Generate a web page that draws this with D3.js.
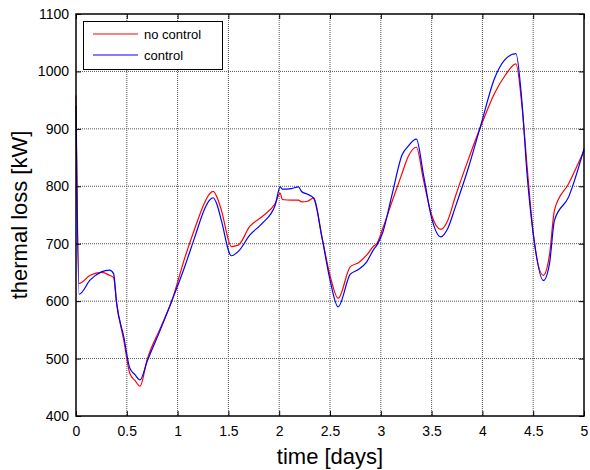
<!DOCTYPE html>
<html>
<head>
<meta charset="utf-8">
<script src="https://cdn.jsdelivr.net/npm/d3@7"></script>
<style>
  body { margin: 0; background: #fff; }
  text { font-family: "Liberation Sans", Arial, sans-serif; }
</style>
</head>
<body>
<svg id="chart" width="590" height="470"></svg>
<script>
const days = [0, 0.03, 0.14, 0.25, 0.33, 0.37, 0.40, 0.47, 0.53, 0.58, 0.63, 0.70, 0.83, 0.94,
  1.07, 1.17, 1.27, 1.31, 1.35, 1.39, 1.43, 1.53, 1.60, 1.71, 1.83, 1.96, 2.01, 2.03, 2.12, 2.19, 2.22,
  2.28, 2.34, 2.42, 2.50, 2.58, 2.70, 2.78, 2.86, 2.93, 2.96, 3.02, 3.11, 3.21, 3.27, 3.35,
  3.42, 3.50, 3.59, 3.66, 3.73, 3.86, 3.99, 4.12, 4.22, 4.33, 4.39, 4.44, 4.50, 4.60, 4.66,
  4.71, 4.85, 5.0];

const noControl = [958, 631, 645, 650, 645, 641, 596, 532, 474, 462, 452, 498, 553, 599,
  675, 727, 773, 786, 791, 780, 759, 695, 698, 730, 747, 770, 788, 777, 776, 776, 773,
  774, 780, 712, 645, 605, 660, 667, 680, 696, 700, 727, 773, 823, 852, 868,
  811, 750, 725, 741, 780, 846, 907, 962, 992, 1013, 939, 834, 718, 645, 680,
  759, 805, 862];

const control = [940, 612, 637, 651, 654, 648, 596, 538, 483, 472, 463, 495, 550, 599,
  660, 712, 762, 775, 780, 767, 741, 679, 687, 715, 735, 767, 799, 795, 796, 799, 791,
  786, 779, 712, 637, 590, 647, 655, 668, 690, 697, 720, 785, 855, 870, 882,
  820, 745, 712, 727, 762, 831, 910, 988, 1020, 1031, 945, 820, 718, 636, 665,
  741, 782, 865];

const xTicks = [0, 0.5, 1, 1.5, 2, 2.5, 3, 3.5, 4, 4.5, 5];
const yTicks = [400, 500, 600, 700, 800, 900, 1000, 1100];
const seriesNames = ["no control", "control"];
const seriesColors = ["#ff0000", "#0000ff"];

const svg = d3.select("#chart");
const plotL = 76, plotR = 584, plotT = 14, plotB = 416;

const x = d3.scaleLinear().domain([0, 5]).range([plotL, plotR]);
const y = d3.scaleLinear().domain([400, 1100]).range([plotB, plotT]);

// grid
const grid = svg.append("g");
grid.selectAll(".vgrid")
  .data(xTicks.slice(1, -1))
  .enter()
  .append("line")
  .attr("x1", (d) => x(d)).attr("x2", (d) => x(d))
  .attr("y1", plotT).attr("y2", plotB)
  .attr("stroke", "#555")
  .attr("stroke-width", 1)
  .attr("stroke-dasharray", "1,1");
grid.selectAll(".hgrid")
  .data(yTicks.slice(1, -1))
  .enter()
  .append("line")
  .attr("x1", plotL).attr("x2", plotR)
  .attr("y1", (d) => y(d)).attr("y2", (d) => y(d))
  .attr("stroke", "#555")
  .attr("stroke-width", 1)
  .attr("stroke-dasharray", "1,1");

// curves
const line = d3.line()
  .x((d, i) => x(days[i]))
  .y((d) => y(d))
  .curve(d3.curveMonotoneX);

[noControl, control].forEach((vals, k) => {
  svg.append("path")
    .datum(vals)
    .attr("d", line)
    .attr("fill", "none")
    .attr("stroke", seriesColors[k])
    .attr("stroke-width", 1.2)
    .attr("stroke-linejoin", "round");
});

// axes (ticks inward on all sides)
const tickLen = 5;
svg.append("g")
  .attr("transform", `translate(0,${plotB})`)
  .call(d3.axisBottom(x).tickValues(xTicks).tickSize(-tickLen).tickPadding(10).tickFormat(d3.format("")))
  .call((g) => g.select(".domain").remove());
svg.append("g")
  .attr("transform", `translate(0,${plotT})`)
  .call(d3.axisTop(x).tickValues(xTicks).tickSize(-tickLen).tickFormat(""))
  .call((g) => g.select(".domain").remove());
svg.append("g")
  .attr("transform", `translate(${plotL},0)`)
  .call(d3.axisLeft(y).tickValues(yTicks).tickSize(-tickLen).tickPadding(7).tickFormat(d3.format("d")))
  .call((g) => g.select(".domain").remove());
svg.append("g")
  .attr("transform", `translate(${plotR},0)`)
  .call(d3.axisRight(y).tickValues(yTicks).tickSize(-tickLen).tickFormat(""))
  .call((g) => g.select(".domain").remove());

svg.selectAll(".tick text")
  .attr("font-size", "14px")
  .attr("fill", "#000")
  .style("font-family", "Liberation Sans, Arial, sans-serif");
svg.selectAll(".tick line").attr("stroke", "#000");

svg.append("rect")
  .attr("x", plotL).attr("y", plotT)
  .attr("width", plotR - plotL).attr("height", plotB - plotT)
  .attr("fill", "none")
  .attr("stroke", "#000")
  .attr("stroke-width", 1.5);

// axis titles
svg.append("text")
  .attr("x", (plotL + plotR) / 2)
  .attr("y", 464)
  .attr("text-anchor", "middle")
  .attr("font-size", "22px")
  .text("time [days]");
svg.append("text")
  .attr("transform", `translate(27,${(plotT + plotB) / 2}) rotate(-90)`)
  .attr("text-anchor", "middle")
  .attr("font-size", "22px")
  .text("thermal loss [kW]");

// legend
const legend = svg.append("g");
legend.append("rect")
  .attr("x", 83.5).attr("y", 21.5)
  .attr("width", 139).attr("height", 48)
  .attr("fill", "#fff")
  .attr("stroke", "#000")
  .attr("stroke-width", 1);
seriesNames.forEach((name, i) => {
  const ly = 34 + i * 21;
  legend.append("line")
    .attr("x1", 93).attr("x2", 138)
    .attr("y1", ly).attr("y2", ly)
    .attr("stroke", seriesColors[i])
    .attr("stroke-width", 1.2);
  legend.append("text")
    .attr("x", 144).attr("y", ly + 5)
    .attr("font-size", "13px")
    .text(name);
});
</script>
</body>
</html>
